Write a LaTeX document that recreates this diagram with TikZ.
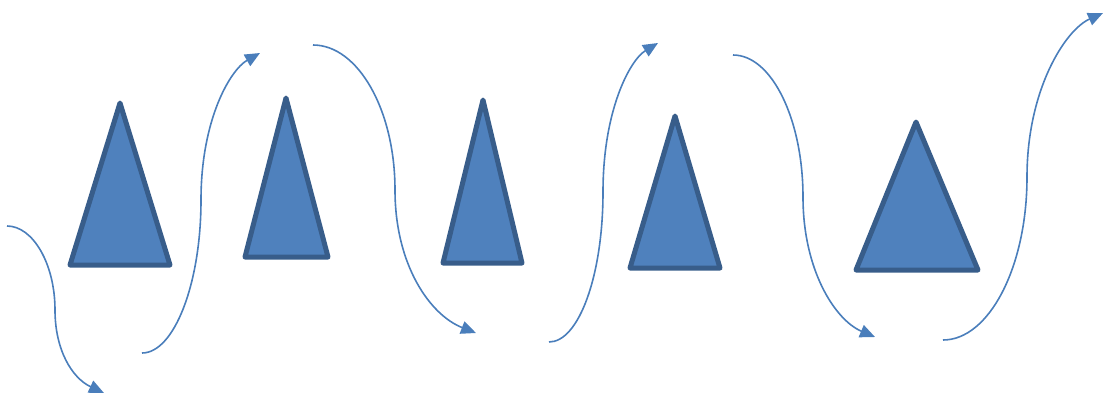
\documentclass[tikz,border=0pt]{standalone}
\usetikzlibrary{arrows.meta}
\definecolor{trifill}{HTML}{4F81BD}
\definecolor{triedge}{HTML}{385D8A}
\definecolor{arrowc}{HTML}{4A7EBB}
\begin{document}
\begin{tikzpicture}[x=1pt,y=-1pt,
  tri/.style={fill=trifill,draw=triedge,line width=5pt,line join=round},
  wave/.style={draw=arrowc,line width=1.6pt,-{Triangle[length=15pt,width=13pt]}}]
\useasboundingbox (0,0) rectangle (1104,394);
% triangles
\draw[tri] (120,103) -- (170,265) -- (70,265) -- cycle;
\draw[tri] (286,98) -- (328,257) -- (245,257) -- cycle;
\draw[tri] (483,100) -- (522,263) -- (443,263) -- cycle;
\draw[tri] (675,116) -- (720,268) -- (630,268) -- cycle;
\draw[tri] (916,122) -- (978,270) -- (856,270) -- cycle;
% curve endpoints
\coordinate (s1) at (7,226);   \coordinate (m1) at (55,310);   \coordinate (e1) at (104,393);
\coordinate (s2) at (142,353); \coordinate (m2) at (201,200);  \coordinate (e2) at (260,53);
\coordinate (s3) at (313,45);  \coordinate (m3) at (395,190);  \coordinate (e3) at (476,333);
\coordinate (s4) at (549,342); \coordinate (m4) at (603,192);  \coordinate (e4) at (658,43);
\coordinate (s5) at (733,55);  \coordinate (m5) at (803,197);  \coordinate (e5) at (875,337);
\coordinate (s6) at (943,340); \coordinate (m6) at (1027,177); \coordinate (e6) at (1103,13);
% curved arrows
\draw[wave] (s1) .. controls (33,226) and (55,264) .. (m1) .. controls (55,350) and (72,378) .. (e1);
\draw[wave] (s2) .. controls (174,353) and (201,284) .. (m2) .. controls (201,120) and (230,70) .. (e2);
\draw[wave] (s3) .. controls (358,45) and (395,110) .. (m3) .. controls (395,265) and (430,315) .. (e3);
\draw[wave] (s4) .. controls (579,342) and (603,275) .. (m4) .. controls (603,110) and (630,60) .. (e4);
\draw[wave] (s5) .. controls (772,55) and (803,120) .. (m5) .. controls (803,270) and (835,320) .. (e5);
\draw[wave] (s6) .. controls (989,340) and (1027,267) .. (m6) .. controls (1027,90) and (1065,30) .. (e6);
\end{tikzpicture}
\end{document}
